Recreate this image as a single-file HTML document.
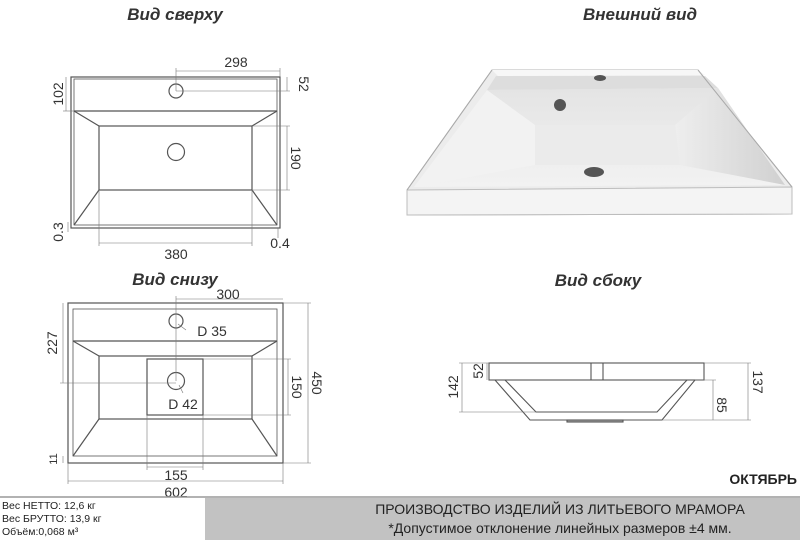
<!DOCTYPE html>
<html><head><meta charset="utf-8"><style>
body{margin:0;width:800px;height:540px;background:#fff;overflow:hidden;font-family:"Liberation Sans",sans-serif}
</style></head><body>
<svg width="800" height="540" viewBox="0 0 800 540" xmlns="http://www.w3.org/2000/svg" font-family="Liberation Sans, sans-serif">
<defs>
<linearGradient id="g1" x1="0" y1="0" x2="0" y2="1"><stop offset="0" stop-color="#e4e4e4"/><stop offset="1" stop-color="#f2f2f2"/></linearGradient>
<linearGradient id="g2" x1="0" y1="0" x2="1" y2="0"><stop offset="0" stop-color="#eeeeee"/><stop offset="1" stop-color="#d0d0d0"/></linearGradient>
</defs>
<g font-style="italic" font-weight="bold" font-size="17" fill="#333" text-anchor="middle">
<text x="175" y="20">Вид сверху</text>
<text x="640" y="20">Внешний вид</text>
<text x="175" y="285">Вид снизу</text>
<text x="598" y="286">Вид сбоку</text>
</g>
<!-- top view -->
<g stroke="#555" fill="none" stroke-width="1.2">
<rect x="71" y="77" width="209" height="151"/>
<rect x="74" y="79" width="203" height="146" stroke-width="0.8"/>
<line x1="74" y1="111" x2="277" y2="111"/>
<rect x="99" y="126" width="153" height="64"/>
<line x1="74" y1="111" x2="99" y2="126"/><line x1="277" y1="111" x2="252" y2="126"/>
<line x1="74" y1="225" x2="99" y2="190"/><line x1="277" y1="225" x2="252" y2="190"/>
<circle cx="176" cy="91" r="7"/><circle cx="176" cy="152" r="8.5"/>
</g>
<g stroke="#777" stroke-width="0.6" fill="none">
<line x1="176" y1="71" x2="280" y2="71"/><line x1="176" y1="68" x2="176" y2="91"/><line x1="280" y1="68" x2="280" y2="77"/>
<line x1="287" y1="77" x2="287" y2="91"/><line x1="176" y1="91" x2="290" y2="91"/>
<line x1="66" y1="77" x2="66" y2="111"/><line x1="63" y1="111" x2="74" y2="111"/>
<line x1="287" y1="126" x2="287" y2="190"/><line x1="252" y1="126" x2="290" y2="126"/><line x1="252" y1="190" x2="290" y2="190"/>
<line x1="99" y1="243" x2="252" y2="243"/><line x1="99" y1="190" x2="99" y2="246"/><line x1="252" y1="190" x2="252" y2="246"/>
<line x1="68" y1="222" x2="68" y2="232"/><line x1="278" y1="228" x2="278" y2="238"/>
</g>
<g font-size="14" fill="#333" text-anchor="middle">
<text x="236" y="67">298</text>
<text x="176" y="259">380</text>
<text x="280" y="248">0.4</text>
<text transform="translate(299,84) rotate(90)">52</text>
<text transform="translate(63,94) rotate(-90)">102</text>
<text transform="translate(291,158) rotate(90)">190</text>
<text transform="translate(63,232) rotate(-90)">0.3</text>
</g>
<!-- bottom view -->
<g stroke="#555" fill="none" stroke-width="1.2">
<rect x="68" y="303" width="215" height="160"/>
<rect x="73" y="309" width="204" height="147" stroke-width="0.8"/>
<line x1="73" y1="341" x2="277" y2="341"/>
<rect x="99" y="356" width="153" height="63"/>
<line x1="73" y1="341" x2="99" y2="356"/><line x1="277" y1="341" x2="252" y2="356"/>
<line x1="73" y1="456" x2="99" y2="419"/><line x1="277" y1="456" x2="252" y2="419"/>
<rect x="147" y="359" width="56" height="56"/>
<circle cx="176" cy="321" r="7"/><circle cx="176" cy="381" r="8.5"/>
</g>
<g stroke="#777" stroke-width="0.6" fill="none">
<line x1="176" y1="299" x2="283" y2="299"/><line x1="176" y1="296" x2="176" y2="381"/>
<line x1="308" y1="303" x2="308" y2="463"/><line x1="283" y1="303" x2="311" y2="303"/><line x1="283" y1="463" x2="311" y2="463"/>
<line x1="288" y1="359" x2="288" y2="415"/><line x1="203" y1="359" x2="291" y2="359"/><line x1="203" y1="415" x2="291" y2="415"/>
<line x1="63" y1="303" x2="63" y2="383"/><line x1="60" y1="383" x2="176" y2="383"/>
<line x1="63" y1="456" x2="63" y2="463"/>
<line x1="147" y1="467" x2="203" y2="467"/><line x1="147" y1="415" x2="147" y2="470"/><line x1="203" y1="415" x2="203" y2="470"/>
<line x1="68" y1="481" x2="283" y2="481"/><line x1="68" y1="463" x2="68" y2="484"/><line x1="283" y1="463" x2="283" y2="484"/>
<line x1="178" y1="324" x2="186" y2="330"/><line x1="179" y1="385" x2="183" y2="393"/>
</g>
<g font-size="14" fill="#333" text-anchor="middle">
<text x="228" y="299">300</text>
<text x="212" y="336">D 35</text>
<text x="183" y="409">D 42</text>
<text x="176" y="480">155</text>
<text x="176" y="497">602</text>
<text transform="translate(312,383) rotate(90)">450</text>
<text transform="translate(292,387) rotate(90)">150</text>
<text transform="translate(57,343) rotate(-90)">227</text>
<text transform="translate(57,459) rotate(-90)" font-size="11">11</text>
</g>
<!-- side view -->
<g stroke="#555" fill="none" stroke-width="1.1">
<rect x="489" y="363" width="215" height="17"/>
<line x1="591" y1="363" x2="591" y2="380"/><line x1="603" y1="363" x2="603" y2="380"/>
<polyline points="495,380 530,420 662,420 695,380"/>
<polyline points="505,380 536,412 657,412 687,380"/>
<rect x="567" y="420" width="56" height="2" fill="#aaa"/>
</g>
<g stroke="#777" stroke-width="0.6" fill="none">
<line x1="462" y1="363" x2="462" y2="412"/><line x1="459" y1="363" x2="489" y2="363"/><line x1="459" y1="412" x2="536" y2="412"/>
<line x1="487" y1="363" x2="487" y2="380"/>
<line x1="748" y1="363" x2="748" y2="420"/><line x1="704" y1="363" x2="751" y2="363"/><line x1="662" y1="420" x2="751" y2="420"/>
<line x1="713" y1="380" x2="713" y2="420"/><line x1="695" y1="380" x2="716" y2="380"/>
</g>
<g font-size="14" fill="#333" text-anchor="middle">
<text transform="translate(458,387) rotate(-90)">142</text>
<text transform="translate(483,371) rotate(-90)">52</text>
<text transform="translate(753,382) rotate(90)">137</text>
<text transform="translate(717,405) rotate(90)">85</text>
</g>
<!-- photo -->
<polygon points="492,70 698,70 792,187 792,214 407,215 407,190" fill="#ececec" stroke="#b5b5b5" stroke-width="1"/>
<polygon points="407,190 792,187 792,214 407,215" fill="#f4f4f4" stroke="#bdbdbd"/>
<polygon points="492,70 698,70 705,75 498,76" fill="#f7f7f7"/>
<polygon points="496,76 705,76 718,88 487,90" fill="#dddddd"/>
<polygon points="487,90 718,88 785,185 414,187" fill="url(#g1)"/>
<polygon points="487,90 535,125 535,165 414,187" fill="#f2f2f2"/>
<polygon points="718,88 675,125 680,165 785,185" fill="url(#g2)"/>
<polygon points="535,125 675,125 680,165 535,165" fill="#ebebeb"/>
<line x1="492" y1="70" x2="407" y2="190" stroke="#aaa"/>
<line x1="698" y1="70" x2="792" y2="187" stroke="#aaa"/>
<ellipse cx="600" cy="78" rx="6" ry="3" fill="#555"/>
<ellipse cx="560" cy="105" rx="6" ry="6" fill="#555"/>
<ellipse cx="594" cy="172" rx="10" ry="5" fill="#555"/>
<text x="797" y="484" font-size="14" font-weight="bold" fill="#222" text-anchor="end">ОКТЯБРЬ</text>
<!-- footer -->
<line x1="0" y1="497" x2="800" y2="497" stroke="#999" stroke-width="1.5"/>
<rect x="205" y="498" width="595" height="42" fill="#c2c2c2"/>
<g font-size="10.5" fill="#222">
<text x="2" y="509">Вес НЕТТО: 12,6 кг</text>
<text x="2" y="522">Вес БРУТТО: 13,9 кг</text>
<text x="2" y="535">Объём:0,068 м³</text>
</g>
<g font-size="14" fill="#222" text-anchor="middle">
<text x="560" y="514">ПРОИЗВОДСТВО ИЗДЕЛИЙ ИЗ ЛИТЬЕВОГО МРАМОРА</text>
<text x="560" y="533">*Допустимое отклонение линейных размеров ±4 мм.</text>
</g>
</svg>
</body></html>
